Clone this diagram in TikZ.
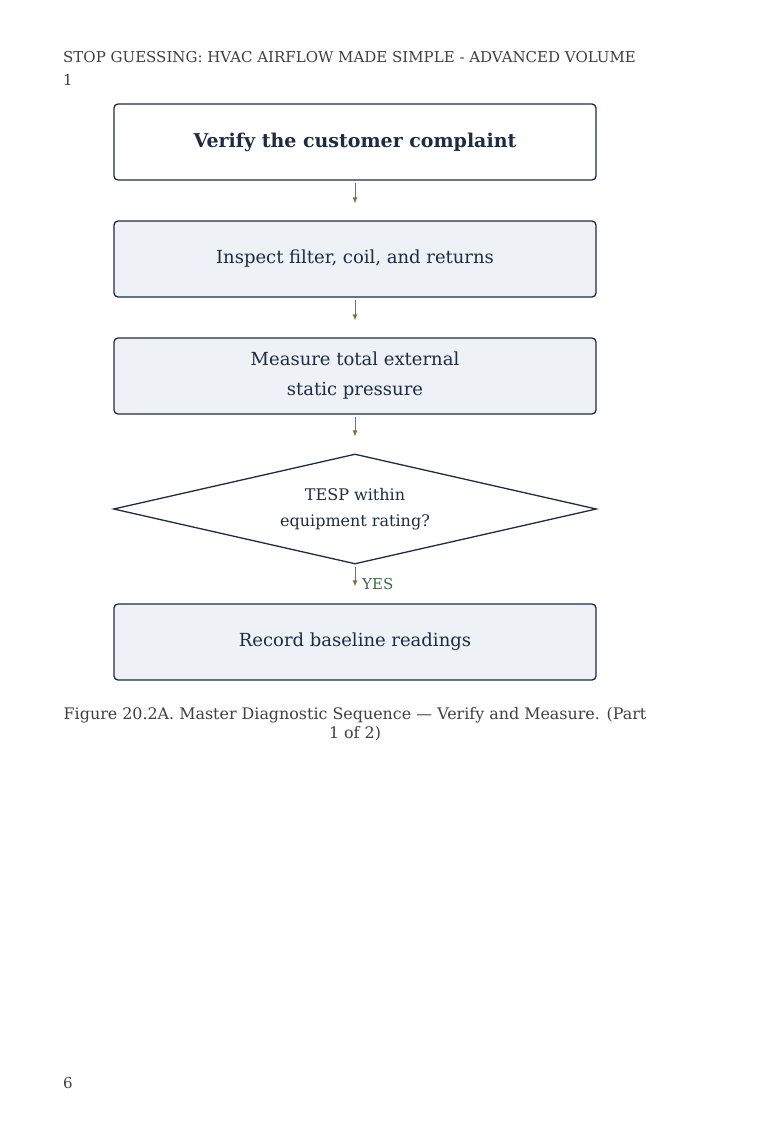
\documentclass[tikz,border=0pt]{standalone}
\usepackage{fontspec}
\setmainfont{DejaVu Serif}
\newfontfamily\pagefont{DejaVu Serif}
\usetikzlibrary{arrows.meta,shapes.geometric}
\definecolor{navy}{HTML}{1F2B44}
\definecolor{boxfill}{HTML}{EEF1F6}
\definecolor{arrowbrown}{HTML}{8A6D3B}
\definecolor{yesgreen}{HTML}{3E6B4C}
\definecolor{pagegray}{HTML}{404040}
\tikzset{
  x=1pt, y=-1pt,
  stepbox/.style={draw=navy, line width=1.3pt, rounded corners=4pt, fill=boxfill,
    minimum width=482pt, minimum height=76pt, inner sep=0pt, align=center,
    text=navy, font=\fontsize{18}{30}\selectfont},
  firstbox/.style={stepbox, fill=white, font=\fontsize{19}{30}\selectfont\bfseries},
  decision/.style={draw=navy, line width=1.3pt, shape=diamond, aspect=4.4,
    minimum width=483pt, minimum height=110pt, inner sep=0pt, align=center,
    text=navy, font=\fontsize{16}{26}\selectfont},
  flow/.style={draw=arrowbrown, line width=0.8pt, -{Latex[length=6pt,width=5pt]},
    shorten <=2pt, shorten >=17pt},
  pagetext/.style={text=pagegray, inner sep=0pt, font=\pagefont\fontsize{15}{20}\selectfont},
  captext/.style={pagetext, font=\pagefont\fontsize{15.9}{20}\selectfont},
  yeslabel/.style={text=yesgreen, inner sep=0pt, font=\fontsize{15}{20}\selectfont}
}
\begin{document}
\begin{tikzpicture}
\useasboundingbox[fill=white] (0,0) rectangle (760,1142);
\node[pagetext, anchor=base west] (hdr1) at (63,63) {STOP GUESSING: HVAC AIRFLOW MADE SIMPLE - ADVANCED VOLUME};
\node[pagetext, anchor=base west] (hdr2) at (63,86) {1};

\node[firstbox] (b1) at (355,142) {Verify the customer complaint};
\node[stepbox] (b2) at (355,259) {Inspect filter, coil, and returns};
\node[stepbox] (b3) at (355,376) {Measure total external\\static pressure};
\node[decision] (d1) at (355,509) {TESP within\\equipment rating?};
\node[stepbox] (b4) at (355,642) {Record baseline readings};

\draw[flow] (b1.south) -- (b2.north);
\draw[flow] (b2.south) -- (b3.north);
\draw[flow] (b3.south) -- (d1.north);
\draw[flow] (d1.south) -- (b4.north);
\node[yeslabel, anchor=west] (yes) at (362,584) {YES};

\node[captext, anchor=base] (cap1) at (355,719) {Figure 20.2A. Master Diagnostic Sequence — Verify and Measure. (Part};
\node[captext, anchor=base] (cap2) at (355,738) {1 of 2)};
\node[pagetext, anchor=base west] (pnum) at (63,1088) {6};
\end{tikzpicture}
\end{document}
